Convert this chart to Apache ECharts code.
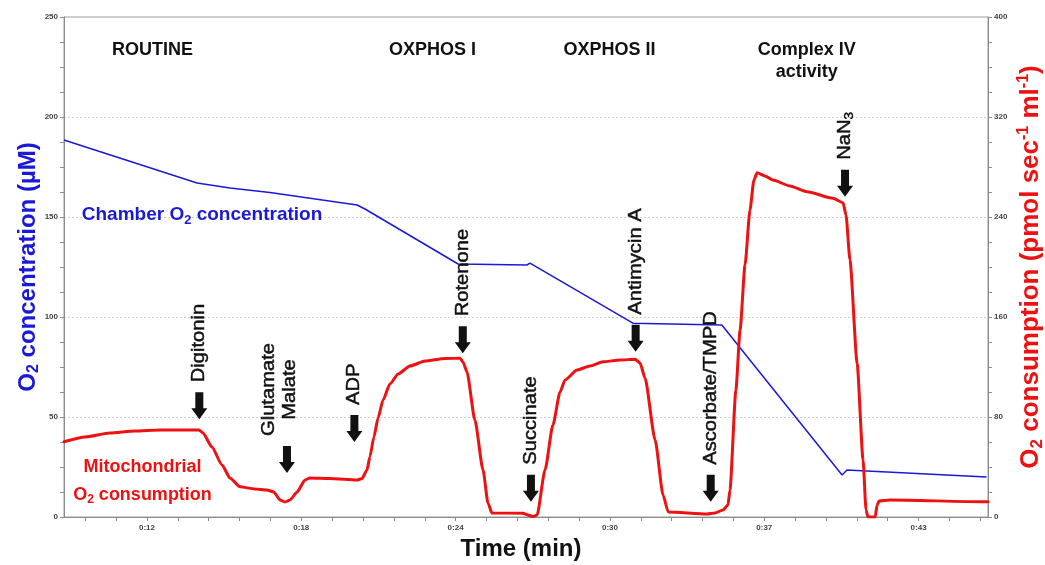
<!DOCTYPE html>
<html>
<head>
<meta charset="utf-8">
<script src="https://cdn.jsdelivr.net/npm/echarts@6/dist/echarts.min.js"></script>
<style>html,body{margin:0;padding:0;background:#fff}#c{width:1045px;height:565px}</style>
</head>
<body>
<div id="c"></div>
<script>
// ---------------- data (time in minutes) ----------------
const xRange = [8.74, 46.16];
const xTickValues = [12.1, 18.35, 24.6, 30.85, 37.1, 43.35];
const xTickLabels = ['0:12', '0:18', '0:24', '0:30', '0:37', '0:43'];

// Chamber O2 concentration (µM, left axis)
const blueTime = [8.74, 14.13, 15.46, 17.08, 20.61, 20.93, 24.70, 27.49, 27.61, 31.78, 35.38, 40.25, 40.45, 46.10];
const blueO2   = [188.5, 167, 164.5, 162.2, 156, 154, 126.5, 126, 126.9, 96.9, 96, 21, 23.5, 20];

// Mitochondrial O2 consumption (pmol sec-1 ml-1, right axis)
const redTime = [8.74, 9.59, 10.60, 11.61, 12.63, 14.21, 14.37, 14.73, 15.14, 15.46, 15.87, 16.47, 16.96, 17.24, 17.49, 17.69, 17.89, 18.18, 18.50, 18.70, 19.51, 20.61, 20.81,
  21.01, 21.13, 21.29, 21.46, 21.66, 21.94, 22.27, 22.75, 23.36, 24.17, 24.78, 24.90, 25.06, 25.38, 25.71, 25.91, 26.07, 27.33, 27.53, 27.73, 27.90,
  28.22, 28.54, 28.83, 29.03, 29.52, 30.04, 30.57, 31.26, 31.87, 32.07, 32.27, 32.68, 33.00, 33.21, 34.78, 35.10, 35.43, 35.63, 35.71, 35.95, 36.12, 36.32, 36.52, 36.68, 36.81,
  37.13, 37.45, 38.14, 38.83, 39.88, 40.29, 40.41, 40.57, 40.86, 41.10, 41.22, 41.30, 41.59, 41.67, 41.75, 42.19, 45.96, 46.16];
const redFlux = [60.2, 64, 67.2, 68.8, 69.6, 69.6, 67.2, 56, 41.6, 31.2, 24.2, 22.4, 21.6, 20, 13.6, 12, 13.6, 20, 29.6, 31.2, 30.8, 29.6, 30.8,
  37.6, 48.2, 64, 79.2, 93.6, 106.4, 114.4, 120.8, 124.8, 126.8, 127, 124, 116, 77.6, 37.6, 11.2, 3.2, 3, 1.6, 0.4, 1.6,
  37.6, 73.6, 100, 109.6, 117.6, 120.8, 124.2, 125.6, 126.2, 123.2, 111.2, 61.6, 17.6, 4, 2.4, 3.2, 5.6, 9.6, 21.6, 101.6, 149.6, 201.6, 245.6, 269.6, 275.4,
  272.8, 269.6, 264.8, 260.2, 255, 251.4, 241.6, 205.6, 123, 45.6, 5.6, 0, 0, 9.6, 12.8, 13.6, 12.2, 12.2];

// injections (arrow tip in right-axis units)
const annotNames  = ['Digitonin', 'Glutamate\nMalate', 'ADP', 'Rotenone', 'Succinate', 'Antimycin A', 'Ascorbate/TMPD', 'NaN₃'];
const annotTimes  = [14.22, 17.77, 20.50, 24.89, 27.65, 31.89, 34.93, 40.37];
const annotLevels = [78.2, 35.2, 60, 131, 12.2, 132.2, 12.2, 256.2];

// phase titles (left-axis units, top of text)
const phaseNames  = ['ROUTINE', 'OXPHOS I', 'OXPHOS II', 'Complex IV\nactivity'];
const phaseTimes  = [12.32, 23.66, 30.83, 38.82];
const phaseLevels = [239, 239, 239, 239];

// curve labels (left-axis units, text centre)
const curveLabelTexts  = ['Chamber O₂ concentration', 'Mitochondrial', 'O₂ consumption'];
const curveLabelTimes  = [14.33, 11.92, 11.92];
const curveLabelLevels = [151, 25.2, 11];

// ---------------- helpers ----------------
const FONT = '"Liberation Sans", Arial, Helvetica, sans-serif';
const BLUE = '#1a1ad6', RED = '#ee1111', TXT = '#111111', AX = '#8c8c8c';
const SUB = {'₀':'0','₁':'1','₂':'2','₃':'3','₄':'4','₅':'5','₆':'6','₇':'7','₈':'8','₉':'9'};
const SUP = {'⁻':'-','¹':'1','²':'2','³':'3'};
function toRich(s) {
  let out = '', cur = '', type = 'n';
  const flush = () => { if (cur) out += '{' + type + '|' + cur + '}'; cur = ''; };
  for (const ch of s) {
    let t = 'n', c = ch;
    if (SUB[ch] !== undefined) { t = 's'; c = SUB[ch]; }
    else if (SUP[ch] !== undefined) { t = 'p'; c = SUP[ch]; }
    if (t !== type) { flush(); type = t; }
    cur += c;
  }
  flush();
  return out;
}
function richSet(size, color, weight, lh) {
  const base = {fontSize: size, fontFamily: FONT, fontWeight: weight, color: color, fill: color};
  if (lh) base.lineHeight = lh;
  return {
    n: Object.assign({}, base),
    s: Object.assign({}, base, {fontSize: Math.round(size * 0.66), verticalAlign: 'top', padding: [Math.round(size * 0.5), 0, 0, 0]}),
    p: Object.assign({}, base, {fontSize: Math.round(size * 0.6), verticalAlign: 'top', padding: [0, 0, 0, 0]})
  };
}
const mctx = document.createElement('canvas').getContext('2d');
function measure(s, size, weight) {
  let w = 0;
  for (const ch of s) {
    const small = SUB[ch] !== undefined || SUP[ch] !== undefined;
    mctx.font = (weight || 'normal') + ' ' + (small ? Math.round(size * 0.66) : size) + 'px ' + FONT;
    w += mctx.measureText(small ? (SUB[ch] || SUP[ch]) : ch).width;
  }
  return w;
}

const minorTicks = [];
(function () {
  const step = (xTickValues[1] - xTickValues[0]) / 5;
  let v = xTickValues[0];
  while (v - step >= xRange[0]) v -= step;
  for (; v <= xRange[1] + 1e-9; v += step) minorTicks.push(+v.toFixed(4));
})();

// ---------------- chart ----------------
const chart = echarts.init(document.getElementById('c'), null, {renderer: 'canvas'});

function renderAnnot(params, api) {
  const i = params.dataIndex;
  const p = api.coord([api.value(0), api.value(1)]);
  const tx = p[0], ty = p[1];
  const sw = 4, hw = 8, hl = 11, total = 27;
  const arrow = {
    type: 'polygon',
    shape: {points: [[tx, ty], [tx - hw, ty - hl], [tx - sw, ty - hl], [tx - sw, ty - total], [tx + sw, ty - total], [tx + sw, ty - hl], [tx + hw, ty - hl]]},
    style: {fill: TXT}
  };
  const txt = annotNames[i];
  const lines = txt.split('\n');
  const sc = 1.12, fs = 18;
  const len = Math.max.apply(null, lines.map(l => measure(l, fs))) * sc;
  const cy = ty - total - 10 - len / 2;
  const cx = tx - (lines.length - 1) * 7;
  const text = {
    type: 'text', x: cx, y: cy, rotation: Math.PI / 2, scaleX: sc,
    style: {text: toRich(txt), rich: richSet(fs, TXT, 'normal', 21), fill: TXT, stroke: TXT, lineWidth: 0.45,
            fontSize: fs, fontFamily: FONT, align: 'center', verticalAlign: 'middle', lineHeight: 21}
  };
  return {type: 'group', children: [arrow, text]};
}

function renderPhase(params, api) {
  const i = params.dataIndex;
  const p = api.coord([api.value(0), api.value(1)]);
  return {
    type: 'text', x: p[0], y: p[1],
    style: {text: phaseNames[i], fill: TXT, fontSize: 18, fontWeight: 'bold', fontFamily: FONT,
            align: 'center', verticalAlign: 'top', lineHeight: 22}
  };
}

function renderCurveLabel(params, api) {
  const i = params.dataIndex;
  const p = api.coord([api.value(0), api.value(1)]);
  const col = i === 0 ? BLUE : RED;
  const fs = i === 0 ? 19 : 18;
  return {
    type: 'text', x: p[0], y: p[1],
    style: {text: toRich(curveLabelTexts[i]), rich: richSet(fs, col, 'bold'), fill: col, fontSize: fs, fontWeight: 'bold',
            fontFamily: FONT, align: 'center', verticalAlign: 'middle'}
  };
}

const option = {
  animation: false,
  backgroundColor: '#ffffff',
  grid: {left: 64, right: 57, top: 17, bottom: 48, containLabel: false, outerBoundsMode: 'none',
         show: true, borderColor: '#9a9a9a', borderWidth: 1, backgroundColor: 'transparent'},
  xAxis: {
    type: 'value', min: xRange[0], max: xRange[1],
    name: 'Time (min)', nameLocation: 'middle', nameGap: 20, nameMoveOverlap: false,
    nameTextStyle: {fontSize: 24, fontWeight: 'bold', color: TXT, fontFamily: FONT, padding: [0, 10, 0, 0]},
    axisLine: {show: true, lineStyle: {color: AX, width: 1}},
    axisTick: {show: true, length: 4, customValues: minorTicks, lineStyle: {color: AX}},
    axisLabel: {
      customValues: xTickValues, fontSize: 8, fontWeight: 'bold', color: '#444', margin: 7, fontFamily: FONT,
      formatter: function (v) {
        let best = 0;
        xTickValues.forEach((t, k) => { if (Math.abs(t - v) < Math.abs(xTickValues[best] - v)) best = k; });
        return xTickLabels[best];
      }
    },
    splitLine: {show: false}
  },
  yAxis: [
    {
      type: 'value', position: 'left', min: 0, max: 250, interval: 50,
      name: toRich('O₂ concentration (µM)'), nameLocation: 'middle', nameRotate: 90, nameGap: 22, nameMoveOverlap: false,
      nameTextStyle: {color: BLUE, fontSize: 24, fontWeight: 'bold', fontFamily: FONT, rich: richSet(24, BLUE, 'bold')},
      axisLine: {show: true, lineStyle: {color: AX, width: 1}},
      axisTick: {show: true, length: 4, lineStyle: {color: AX}},
      minorTick: {show: true, splitNumber: 4, length: 4, lineStyle: {color: AX}},
      axisLabel: {fontSize: 8, fontWeight: 'bold', color: '#444', margin: 6, fontFamily: FONT},
      splitLine: {show: true, lineStyle: {color: '#d0d0d0', type: [2, 2], width: 1}},
      minorSplitLine: {show: false}
    },
    {
      type: 'value', position: 'right', min: 0, max: 400, interval: 80,
      name: toRich('O₂ consumption (pmol sec⁻¹ ml⁻¹)'), nameLocation: 'middle', nameRotate: 90, nameGap: 28, nameMoveOverlap: false,
      nameTextStyle: {color: RED, fontSize: 26, fontWeight: 'bold', fontFamily: FONT, rich: richSet(26, RED, 'bold')},
      axisLine: {show: true, lineStyle: {color: AX, width: 1}},
      axisTick: {show: true, length: 4, lineStyle: {color: AX}},
      minorTick: {show: true, splitNumber: 4, length: 4, lineStyle: {color: AX}},
      axisLabel: {fontSize: 8, fontWeight: 'bold', color: '#444', margin: 6, fontFamily: FONT},
      splitLine: {show: false}
    }
  ],
  series: [
    {
      name: 'Chamber O₂ concentration', type: 'line', yAxisIndex: 0,
      data: blueTime.map((t, i) => [t, blueO2[i]]),
      showSymbol: false, symbol: 'none', lineStyle: {color: BLUE, width: 1.5}, z: 3, silent: true
    },
    {
      name: 'Mitochondrial O₂ consumption', type: 'line', yAxisIndex: 1,
      data: redTime.map((t, i) => [t, redFlux[i]]),
      showSymbol: false, symbol: 'none', smooth: 0.2, smoothMonotone: 'x',
      lineStyle: {color: RED, width: 3, cap: 'round', join: 'round'}, z: 4, silent: true
    },
    {
      type: 'custom', yAxisIndex: 1, renderItem: renderAnnot, silent: true, z: 6,
      data: annotTimes.map((t, i) => [t, annotLevels[i]])
    },
    {
      type: 'custom', yAxisIndex: 0, renderItem: renderPhase, silent: true, z: 6,
      data: phaseTimes.map((t, i) => [t, phaseLevels[i]])
    },
    {
      type: 'custom', yAxisIndex: 0, renderItem: renderCurveLabel, silent: true, z: 6,
      data: curveLabelTimes.map((t, i) => [t, curveLabelLevels[i]])
    }
  ]
};
chart.setOption(option);
</script>
</body>
</html>
